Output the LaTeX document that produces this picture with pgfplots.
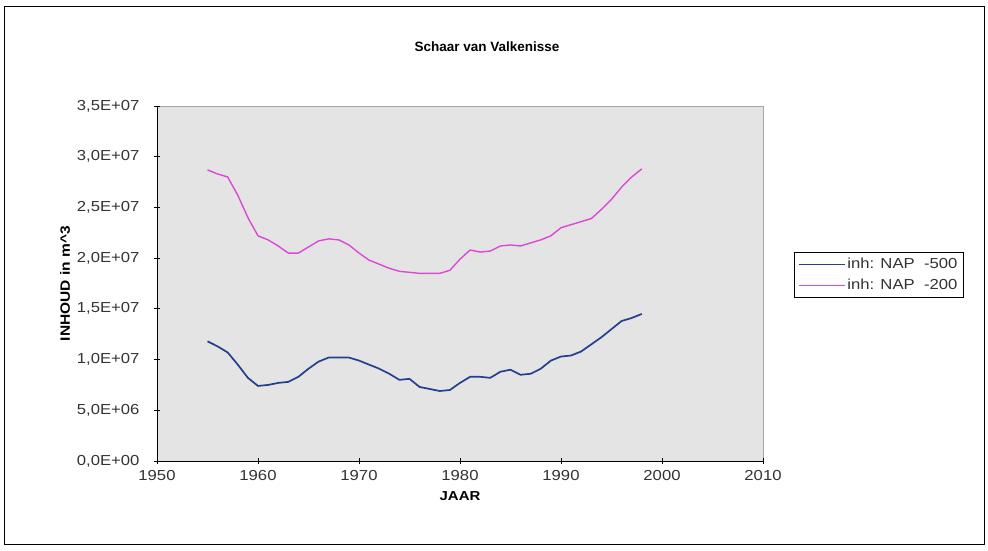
\documentclass[border=0pt]{standalone}
\usepackage{fontspec}
\setmainfont{Liberation Sans}
\newfontfamily\widefont{Liberation Sans}[FakeStretch=1.15]
\usepackage{pgfplots}
\pgfplotsset{compat=1.18}
\definecolor{navy}{HTML}{22408C}
\definecolor{pinkline}{HTML}{DE48D6}
\definecolor{plotbg}{HTML}{E4E4E4}

% inhoud in miljoen m^3, per jaar
\pgfplotstableread{
jaar  v
1955 11.8
1956 11.3
1957 10.7
1958 9.5
1959 8.2
1960 7.4
1961 7.5
1962 7.7
1963 7.8
1964 8.3
1965 9.1
1966 9.8
1967 10.2
1968 10.2
1969 10.2
1970 9.9
1971 9.5
1972 9.1
1973 8.6
1974 8.0
1975 8.1
1976 7.3
1977 7.1
1978 6.9
1979 7.0
1980 7.7
1981 8.3
1982 8.3
1983 8.2
1984 8.8
1985 9.0
1986 8.5
1987 8.6
1988 9.1
1989 9.9
1990 10.3
1991 10.4
1992 10.8
1993 11.5
1994 12.2
1995 13.0
1996 13.8
1997 14.1
1998 14.5
}\napfive

\pgfplotstableread{
jaar  v
1955 28.7
1956 28.3
1957 28.0
1958 26.2
1959 24.0
1960 22.2
1961 21.8
1962 21.2
1963 20.5
1964 20.5
1965 21.1
1966 21.7
1967 21.9
1968 21.8
1969 21.3
1970 20.5
1971 19.8
1972 19.4
1973 19.0
1974 18.7
1975 18.6
1976 18.5
1977 18.5
1978 18.5
1979 18.8
1980 19.9
1981 20.8
1982 20.6
1983 20.7
1984 21.2
1985 21.3
1986 21.2
1987 21.5
1988 21.8
1989 22.2
1990 23.0
1991 23.3
1992 23.6
1993 23.9
1994 24.8
1995 25.8
1996 27.0
1997 28.0
1998 28.8
}\naptwo

\begin{document}
\begin{tikzpicture}
  \useasboundingbox (0pt,0pt) rectangle (988pt,551pt);
  \draw[black, line width=0.8pt] (4pt,7pt) rectangle (984pt,545pt);
  \node[font=\fontsize{13.5}{16}\selectfont\bfseries] at (487pt,504pt) {Schaar van Valkenisse};
  \begin{axis}[
      at={(157pt,90pt)}, anchor=south west,
      scale only axis, width=606pt, height=355pt,
      xmin=1950, xmax=2010, ymin=0, ymax=35,
      xtick={1950,1960,...,2010},
      ytick={0,5,...,35},
      yticklabels={{0,0E+00},{5,0E+06},{1,0E+07},{1,5E+07},{2,0E+07},{2,5E+07},{3,0E+07},{3,5E+07}},
      x tick label style={/pgf/number format/1000 sep={}, yshift=-3pt},
      y tick label style={xshift=-11pt},
      /pgf/number format/assume math mode=true,
      axis x line=bottom, axis y line=left,
      axis line style={-, black, line width=0.9pt},
      tick align=center, major tick length=6pt,
      tick style={black, line width=0.8pt},
      tick label style={font=\widefont\fontsize{14.5}{16}\selectfont, text=black!80},
      axis background/.style={fill=plotbg, draw=gray!70, line width=0.5pt},
      xlabel={JAAR}, ylabel={INHOUD in m\textasciicircum 3},
      xlabel style={font=\widefont\fontsize{13}{15}\selectfont\bfseries, yshift=-4pt},
      ylabel style={font=\widefont\fontsize{13.5}{15}\selectfont\bfseries, yshift=0pt},
      legend style={at={(1.051,0.589)}, anchor=north west, draw=black, line width=0.8pt,
        font=\widefont\fontsize{14.5}{16}\selectfont, text=black!80,
        row sep=5pt, inner xsep=4pt, inner ysep=4pt},
      legend cell align=left,
      legend image code/.code={\draw[#1, line width=1.1pt] (0pt,0pt) -- (46pt,0pt);},
    ]
    \addplot[navy, line width=1.7pt] table[x=jaar, y=v] {\napfive};
    \addlegendentry{inh: NAP~~-500}
    \addplot[pinkline, line width=1.4pt] table[x=jaar, y=v] {\naptwo};
    \addlegendentry{inh: NAP~~-200}
  \end{axis}
\end{tikzpicture}
\end{document}
